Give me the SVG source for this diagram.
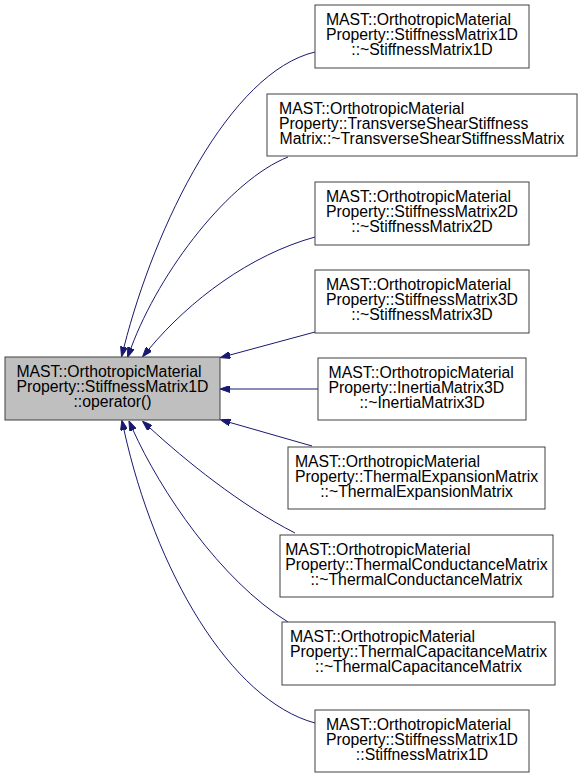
<svg xmlns="http://www.w3.org/2000/svg" width="583" height="779" viewBox="0 0 583 779">
<defs>
<style>
.n rect{fill:#ffffff;stroke:#404040;stroke-width:1}
#n0 rect{fill:#bfbfbf}
.n text{font-family:"Liberation Sans",Arial,sans-serif;font-size:15.8px;fill:#000000}
.c{text-anchor:middle}
.e path{fill:none;stroke:#191970;stroke-width:1;marker-end:url(#ah)}
</style>
<marker id="ah" viewBox="0 0 10 7" refX="0" refY="3.5" markerWidth="10" markerHeight="7" markerUnits="userSpaceOnUse" orient="auto">
<path d="M0,0 L10,3.5 L0,7 Z" fill="#191970" stroke="#191970" stroke-width="1"/>
</marker>
</defs>
<rect width="583" height="779" fill="#ffffff"/>
<g class="e" id="edges">
<path d="M315,52 C230,72 155,225 124,347"/>
<path d="M288,157 C230,180 160,270 131,348"/>
<path d="M315,237 C250,255 190,300 149,349"/>
<path d="M315,332 L230,355"/>
<path d="M318,389 L230,389"/>
<path d="M312,446 L230,422.5"/>
<path d="M295,533 C240,505 185,460 150,428"/>
<path d="M288,622 C220,580 160,490 133,430"/>
<path d="M315,723 C230,700 155,570 124,430"/>
</g>
<g class="n" id="n0">
<rect x="5" y="357" width="215" height="63"/>
<text x="16.4" y="377">MAST::OrthotropicMaterial</text>
<text x="16.4" y="392">Property::StiffnessMatrix1D</text>
<text class="c" x="112.5" y="407">::operator()</text>
</g>
<g class="n" id="n1">
<rect x="315" y="5" width="214" height="63"/>
<text x="325.9" y="25">MAST::OrthotropicMaterial</text>
<text x="325.9" y="40">Property::StiffnessMatrix1D</text>
<text class="c" x="422" y="55">::~StiffnessMatrix1D</text>
</g>
<g class="n" id="n2">
<rect x="267" y="94" width="310" height="62"/>
<text x="279" y="114">MAST::OrthotropicMaterial</text>
<text x="279" y="129">Property::TransverseShearStiffness</text>
<text class="c" x="422" y="144">Matrix::~TransverseShearStiffnessMatrix</text>
</g>
<g class="n" id="n3">
<rect x="315" y="182" width="214" height="63"/>
<text x="325.9" y="202">MAST::OrthotropicMaterial</text>
<text x="325.9" y="217">Property::StiffnessMatrix2D</text>
<text class="c" x="422" y="232">::~StiffnessMatrix2D</text>
</g>
<g class="n" id="n4">
<rect x="315" y="270" width="214" height="63"/>
<text x="325.9" y="290">MAST::OrthotropicMaterial</text>
<text x="325.9" y="305">Property::StiffnessMatrix3D</text>
<text class="c" x="422" y="320">::~StiffnessMatrix3D</text>
</g>
<g class="n" id="n5">
<rect x="318" y="358" width="208" height="62"/>
<text x="328.5" y="378">MAST::OrthotropicMaterial</text>
<text x="328.5" y="393">Property::InertiaMatrix3D</text>
<text class="c" x="422" y="408">::~InertiaMatrix3D</text>
</g>
<g class="n" id="n6">
<rect x="288" y="447" width="257" height="62"/>
<text x="294.9" y="467">MAST::OrthotropicMaterial</text>
<text x="294.9" y="482">Property::ThermalExpansionMatrix</text>
<text class="c" x="416.5" y="497">::~ThermalExpansionMatrix</text>
</g>
<g class="n" id="n7">
<rect x="280" y="535" width="273" height="62"/>
<text x="285.2" y="555">MAST::OrthotropicMaterial</text>
<text x="285.2" y="570">Property::ThermalConductanceMatrix</text>
<text class="c" x="416.5" y="585">::~ThermalConductanceMatrix</text>
</g>
<g class="n" id="n8">
<rect x="282" y="622" width="273" height="63"/>
<text x="289.9" y="642">MAST::OrthotropicMaterial</text>
<text x="289.9" y="657">Property::ThermalCapacitanceMatrix</text>
<text class="c" x="418.5" y="672">::~ThermalCapacitanceMatrix</text>
</g>
<g class="n" id="n9">
<rect x="315" y="710" width="214" height="62"/>
<text x="325.9" y="730">MAST::OrthotropicMaterial</text>
<text x="325.9" y="745">Property::StiffnessMatrix1D</text>
<text class="c" x="422" y="760">::StiffnessMatrix1D</text>
</g>
</svg>
